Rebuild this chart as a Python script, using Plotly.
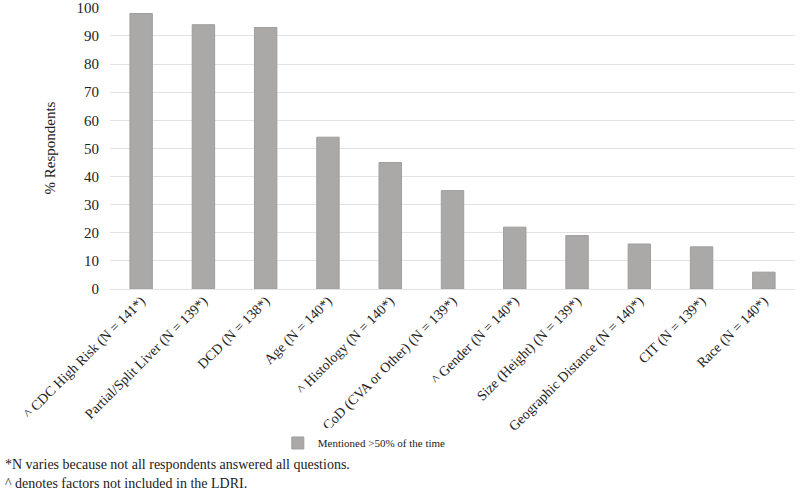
import plotly.graph_objects as go

factors = [
    "^ CDC High Risk (N = 141*)",
    "Partial/Split Liver (N = 139*)",
    "DCD (N = 138*)",
    "Age (N = 140*)",
    "^ Histology (N = 140*)",
    "CoD (CVA or Other) (N = 139*)",
    "^ Gender (N = 140*)",
    "Size (Height) (N = 139*)",
    "Geographic Distance (N = 140*)",
    "CIT (N = 139*)",
    "Race (N = 140*)",
]
pct_mentioned = [98, 94, 93, 54, 45, 35, 22, 19, 16, 15, 6]

FONT = "Liberation Serif, Times New Roman, serif"
INK = "#222"

fig = go.Figure()
fig.add_trace(
    go.Bar(
        x=factors,
        y=pct_mentioned,
        name="Mentioned >50% of the time",
        width=0.36,
        marker=dict(color="#aba8a8", line=dict(color="#a09d9d", width=1)),
    )
)

fig.update_layout(
    width=800,
    height=494,
    template="plotly_white",
    plot_bgcolor="white",
    paper_bgcolor="white",
    font=dict(family=FONT, size=14, color=INK),
    margin=dict(l=110, r=5, t=7, b=205),
    showlegend=True,
    legend=dict(
        orientation="h",
        x=0.245,
        xanchor="left",
        y=-0.546,
        yanchor="middle",
        font=dict(family=FONT, size=11, color=INK),
        itemwidth=30,
    ),
)
fig.update_xaxes(
    tickangle=-45,
    showgrid=False,
    showline=False,
    ticks="",
    automargin=False,
    tickfont=dict(family=FONT, size=14, color=INK),
)
fig.update_yaxes(
    range=[0, 100.3],
    dtick=10,
    showgrid=True,
    gridcolor="#e3e3e3",
    zeroline=True,
    zerolinecolor="#e3e3e3",
    zerolinewidth=1,
    showline=False,
    automargin=False,
    ticks="",
    ticklabelstandoff=10,
    ticklabeloverflow="allow",
    title=dict(text="% Respondents", font=dict(family=FONT, size=15, color=INK), standoff=17),
    tickfont=dict(family=FONT, size=15, color=INK),
)

fig.add_annotation(
    text="*N varies because not all respondents answered all questions.",
    xref="paper", yref="paper", x=-0.156, y=-0.624, xanchor="left", yanchor="middle",
    showarrow=False, font=dict(family=FONT, size=14, color=INK),
)
fig.add_annotation(
    text="^ denotes factors not included in the LDRI.",
    xref="paper", yref="paper", x=-0.156, y=-0.691, xanchor="left", yanchor="middle",
    showarrow=False, font=dict(family=FONT, size=14, color=INK),
)

fig.write_html(
    "out.html",
    config={"displayModeBar": False},
    post_script="document.body.style.margin='0';",
)
